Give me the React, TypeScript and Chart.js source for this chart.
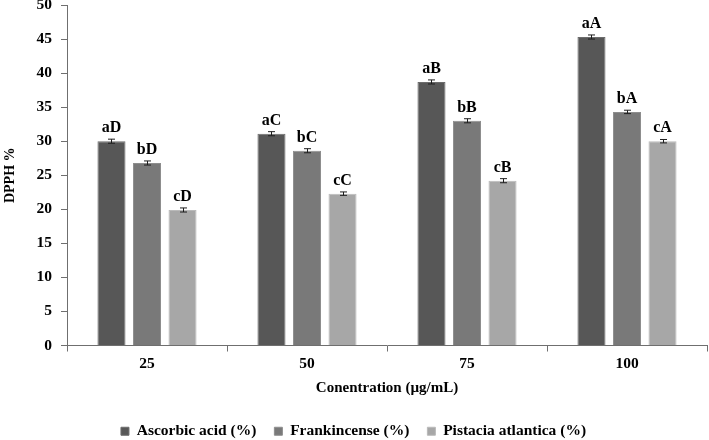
import React, { useEffect, useRef } from "react";
import { Chart, registerables } from "chart.js";

Chart.register(...registerables);

// Concentrations tested (µg/mL)
const concentrations = ["25", "50", "75", "100"];

// DPPH radical scavenging (%) per sample
const ascorbicAcid = [30.0, 31.1, 38.7, 45.3];
const frankincense = [26.8, 28.6, 33.0, 34.3];
const pistaciaAtlantica = [19.9, 22.3, 24.2, 30.0];

// Standard deviations
const ascorbicErr = [0.3, 0.3, 0.3, 0.3];
const frankincenseErr = [0.3, 0.3, 0.3, 0.25];
const pistaciaErr = [0.3, 0.25, 0.3, 0.25];

// Significance letters above each bar
const ascorbicLetters = ["aD", "aC", "aB", "aA"];
const frankincenseLetters = ["bD", "bC", "bB", "bA"];
const pistaciaLetters = ["cD", "cC", "cB", "cA"];

const seriesNames = ["Ascorbic acid (%)", "Frankincense (%)", "Pistacia atlantica (%)"];
const barColors = ["#575757", "#797979", "#a7a7a7"];
const barEdges = ["#6c6c6c", "#8e8e8e", "#bababa"];

const yTicks = [0, 5, 10, 15, 20, 25, 30, 35, 40, 45, 50];

const SERIF = "'Liberation Serif', 'Times New Roman', serif";

// Draws the error bars and the letter labels on top of every bar
const errorBarsAndLetters = {
  id: "errorBarsAndLetters",
  afterDatasetsDraw(chart: any) {
    const { ctx } = chart;
    const yScale = chart.scales.y;
    chart.data.datasets.forEach((ds: any, di: number) => {
      const meta = chart.getDatasetMeta(di);
      meta.data.forEach((bar: any, i: number) => {
        const v = ds.data[i];
        const e = ds.errors[i];
        const top = yScale.getPixelForValue(v + e);
        const bottom = yScale.getPixelForValue(v - e);
        const x = Math.round(bar.x) + 0.5;
        ctx.save();
        ctx.strokeStyle = "#1e1e1e";
        ctx.lineWidth = 1;
        ctx.beginPath();
        ctx.moveTo(x, top);
        ctx.lineTo(x, bottom);
        ctx.moveTo(x - 3.5, top);
        ctx.lineTo(x + 3.5, top);
        ctx.moveTo(x - 3.5, bottom);
        ctx.lineTo(x + 3.5, bottom);
        ctx.stroke();
        ctx.font = `bold 16px ${SERIF}`;
        ctx.fillStyle = "#000";
        ctx.textAlign = "center";
        ctx.textBaseline = "alphabetic";
        ctx.fillText(ds.letters[i], bar.x, top - 7);
        ctx.restore();
      });
    });
  },
};

export default function App() {
  const canvasRef = useRef<HTMLCanvasElement | null>(null);

  useEffect(() => {
    if (!canvasRef.current) return;
    const chart = new Chart(canvasRef.current, {
      type: "bar",
      data: {
        labels: concentrations,
        datasets: [
          {
            label: seriesNames[0],
            data: ascorbicAcid,
            errors: ascorbicErr,
            letters: ascorbicLetters,
            backgroundColor: barColors[0],
            borderColor: barEdges[0],
            borderWidth: 1,
          } as any,
          {
            label: seriesNames[1],
            data: frankincense,
            errors: frankincenseErr,
            letters: frankincenseLetters,
            backgroundColor: barColors[1],
            borderColor: barEdges[1],
            borderWidth: 1,
          } as any,
          {
            label: seriesNames[2],
            data: pistaciaAtlantica,
            errors: pistaciaErr,
            letters: pistaciaLetters,
            backgroundColor: barColors[2],
            borderColor: barEdges[2],
            borderWidth: 1,
          } as any,
        ],
      },
      options: {
        responsive: true,
        maintainAspectRatio: false,
        animation: false,
        datasets: {
          bar: { categoryPercentage: 0.666, barPercentage: 0.79 },
        },
        layout: { padding: { top: 5, right: 2, left: 0, bottom: 0 } },
        plugins: {
          tooltip: { enabled: false },
          legend: {
            position: "bottom",
            labels: {
              boxWidth: 8,
              boxHeight: 8,
              padding: 18,
              color: "#000",
              font: { family: SERIF, size: 15.5, weight: "bold" },
            },
          },
        },
        scales: {
          x: {
            grid: {
              drawOnChartArea: false,
              drawTicks: true,
              tickLength: 6,
              color: "#6f6f6f",
            },
            border: { color: "#6f6f6f", width: 1 },
            ticks: {
              padding: 3,
              color: "#000",
              font: { family: SERIF, size: 15.5, weight: "bold" },
            },
            title: {
              display: true,
              text: "Conentration (µg/mL)",
              color: "#000",
              font: { family: SERIF, size: 15, weight: "bold" },
              padding: { top: 0, bottom: 8 },
            },
            afterFit(scale: any) {
              scale.height = 60;
              scale.paddingLeft = 0;
              scale.paddingRight = 0;
            },
          },
          y: {
            min: 0,
            max: 50,
            afterBuildTicks(scale: any) {
              scale.ticks = yTicks.map((v) => ({ value: v }));
            },
            grid: {
              drawOnChartArea: false,
              drawTicks: true,
              tickLength: 6,
              color: "#6f6f6f",
            },
            border: { color: "#6f6f6f", width: 1 },
            ticks: {
              padding: 9,
              color: "#000",
              font: { family: SERIF, size: 15.5, weight: "bold" },
            },
            title: {
              display: true,
              text: "DPPH %",
              color: "#000",
              font: { family: SERIF, size: 14, weight: "bold" },
              padding: { top: 2, bottom: 0 },
            },
            afterFit(scale: any) {
              scale.width = 67;
              scale.paddingTop = 0;
              scale.paddingBottom = 0;
            },
          },
        },
      },
      plugins: [errorBarsAndLetters],
    });
    return () => chart.destroy();
  }, []);

  return (
    <div
      style={{
        position: "fixed",
        left: 0,
        top: 0,
        width: 709,
        height: 449,
        background: "#fff",
      }}
    >
      <canvas ref={canvasRef} />
    </div>
  );
}
